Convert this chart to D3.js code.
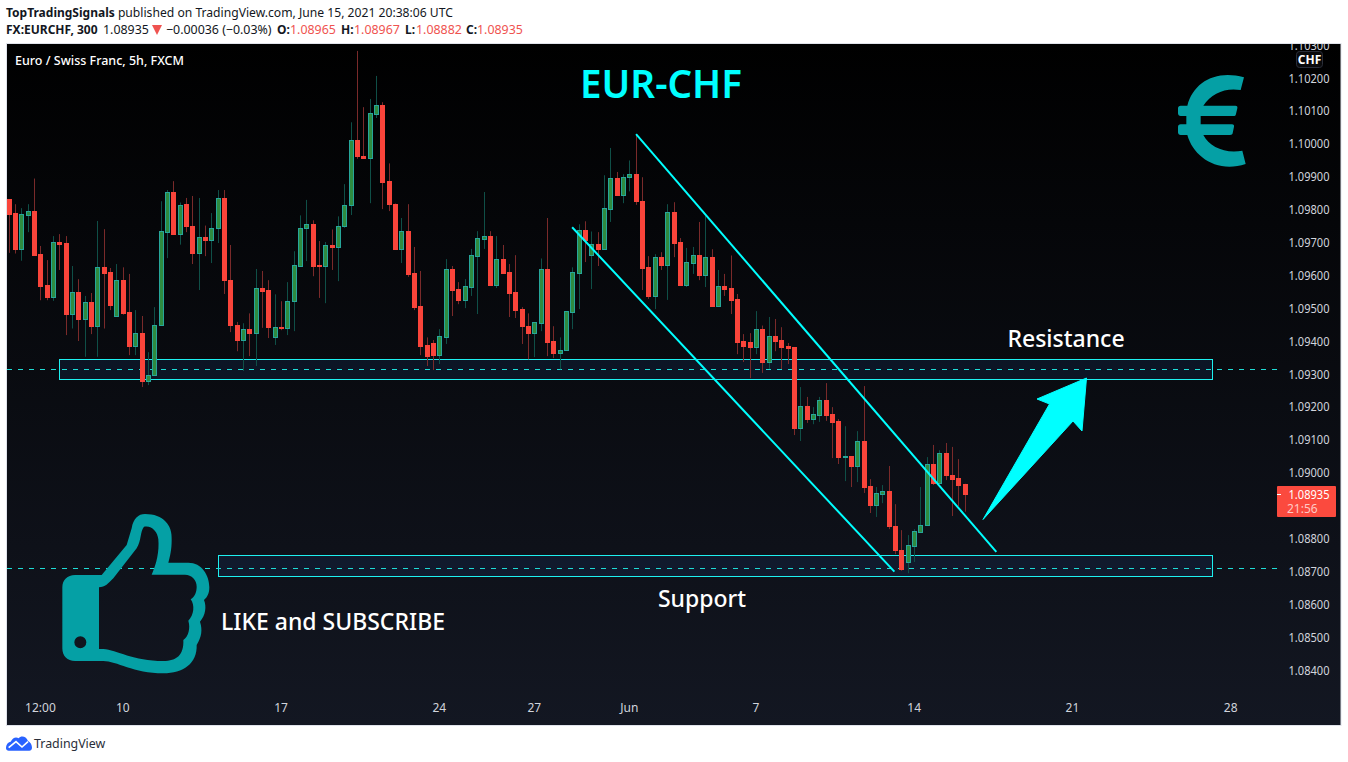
<!DOCTYPE html>
<html><head><meta charset="utf-8">
<script src="https://cdn.jsdelivr.net/npm/d3@7"></script>
<style>html,body{margin:0;padding:0;background:#fff}svg{display:block}text{font-family:"Noto Sans","Open Sans",sans-serif}</style>
</head><body><div id="c"></div>
<script>
// Prices in units of 0.00001
const opens=[109832,109790,109682,109785,109795,109665,109570,109536,109702,109698,109484,109549,109469,109521,109447,109625,109610,109478,109588,109488,109387,109424,109280,109298,109450,109733,109853,109727,109817,109752,109669,109717,109709,109745,109835,109588,109451,109405,109439,109426,109562,109555,109414,109445,109441,109523,109630,109745,109756,109631,109630,109692,109688,109751,109815,110011,109965,109958,110092,110120,109886,109819,109682,109737,109607,109506,109388,109394,109359,109414,109619,109558,109526,109566,109660,109712,109719,109572,109649,109610,109549,109497,109448,109426,109457,109619,109400,109365,109374,109490,109609,109740,109663,109695,109681,109803,109898,109846,109900,109908,109828,109625,109539,109655,109633,109792,109701,109572,109639,109664,109603,109655,109508,109568,109561,109528,109400,109397,109384,109439,109338,109415,109403,109385,109382,109137,109202,109165,109177,109223,109178,109157,109049,109050,109022,109096,108959,108903,108937,108944,108840,108767,108730,108779,108821,108842,109026,108970,109059,108995,108983,108965];
const highs=[109832,109817,109805,109817,109895,109690,109647,109720,109726,109720,109629,109589,109538,109547,109766,109741,109623,109635,109625,109605,109495,109477,109367,109504,109826,109860,109887,109822,109836,109842,109836,109752,109790,109860,109860,109693,109459,109455,109485,109620,109614,109586,109543,109522,109580,109674,109783,109830,109768,109705,109702,109740,109780,109878,110066,110283,110112,110137,110207,110127,109941,109819,109775,109817,109687,109614,109412,109404,109437,109650,109629,109580,109589,109681,109735,109854,109735,109720,109693,109635,109662,109504,109485,109458,109652,109775,109446,109412,109491,109625,109756,109765,109734,109732,109905,109988,109915,109908,109950,110029,109899,109659,109665,109671,109817,109823,109714,109684,109687,109763,109781,109680,109617,109605,109661,109544,109422,109425,109492,109448,109474,109468,109443,109395,109382,109261,109231,109200,109231,109273,109200,109164,109142,109050,109127,109264,108981,108957,108963,109021,108905,108826,108811,108829,108957,109048,109085,109069,109091,109079,109042,108967];
const lows=[109669,109667,109645,109732,109663,109525,109525,109523,109617,109419,109439,109401,109353,109422,109353,109439,109495,109478,109481,109358,109358,109261,109267,109298,109450,109653,109727,109694,109732,109635,109556,109659,109638,109699,109544,109428,109370,109310,109355,109325,109441,109410,109389,109434,109419,109431,109627,109644,109598,109532,109516,109617,109583,109745,109784,109955,109955,109820,110079,109802,109796,109682,109638,109596,109495,109358,109325,109313,109331,109392,109477,109513,109501,109538,109483,109681,109572,109562,109609,109474,109471,109392,109345,109352,109431,109355,109349,109315,109374,109437,109498,109641,109559,109629,109681,109763,109846,109820,109856,109815,109556,109529,109498,109617,109526,109656,109572,109565,109605,109586,109565,109505,109505,109538,109483,109361,109337,109288,109361,109304,109316,109370,109316,109331,109115,109097,109152,109148,109155,109158,109045,109027,108975,108957,108972,108939,108878,108866,108908,108829,108753,108702,108695,108729,108818,108842,108963,108970,108978,108869,108899,108882];
const closes=[109788,109682,109786,109795,109663,109569,109536,109701,109697,109484,109549,109469,109521,109447,109625,109609,109510,109588,109486,109387,109424,109280,109299,109451,109734,109853,109727,109816,109751,109669,109716,109708,109746,109835,109587,109449,109405,109439,109426,109561,109554,109444,109445,109441,109524,109631,109746,109756,109630,109629,109692,109688,109752,109816,110011,109964,109958,110093,110120,109885,109818,109682,109737,109606,109505,109387,109356,109358,109415,109619,109557,109526,109567,109661,109713,109719,109572,109649,109609,109548,109496,109447,109426,109458,109619,109399,109365,109375,109491,109610,109740,109709,109695,109681,109804,109898,109846,109901,109908,109827,109624,109539,109655,109633,109792,109700,109572,109640,109664,109603,109655,109508,109567,109559,109527,109399,109387,109383,109439,109338,109415,109402,109384,109381,109137,109202,109165,109178,109223,109177,109156,109049,109050,109022,109096,108958,108903,108938,108944,108839,108766,108709,108780,108822,108843,109026,108970,109059,108994,108982,108964,108935];

const priceTicks=[1.103,1.102,1.101,1.1,1.099,1.098,1.097,1.096,1.095,1.094,1.093,1.092,1.091,1.09,1.088,1.087,1.086,1.085,1.084];
const timeLabels=["12:00","10","17","24","27","Jun","7","14","21","28"];
const timeIndex=[5,18,43,68,83,98,118,143,168,193];
const zonePrices=[[1.09345,1.09284],[1.08749,1.08687]];
const zoneStart=[59.5,218.5];
const levelPrices=[1.09315,1.08712];
const channelUpper=[[99,1.1003],[155.9,1.0876]];
const channelLower=[[88.9,1.09747],[139.8,1.0870]];
const lastPrice=1.08935;

const W=1348,H=762;
const svg=d3.select("#c").append("svg").attr("width",W).attr("height",H);
const defs=svg.append("defs");
const grad=defs.append("linearGradient").attr("id","bg").attr("x1",0).attr("y1",0).attr("x2",0).attr("y2",1);
grad.append("stop").attr("offset","0%").attr("stop-color","#000");
grad.append("stop").attr("offset","100%").attr("stop-color","#131722");
defs.append("clipPath").attr("id","pane").append("rect").attr("x",7).attr("y",44).attr("width",1270).attr("height",681);
defs.append("clipPath").attr("id","full").append("rect").attr("x",7).attr("y",44).attr("width",1334).attr("height",681);

svg.append("rect").attr("x",6.5).attr("y",43.5).attr("width",1334.5).attr("height",682).attr("fill","url(#bg)").attr("stroke","#e0e3eb");

const x=d3.scaleLinear().domain([0,151]).range([9.3,965.3]);
const y=d3.scaleLinear().domain([1.10,1.09]).range([144,472.9]);
const px=v=>v/1e5;

// Header
const hdr=svg.append("g").attr("font-size",12).attr("fill","#131722");
const l1=hdr.append("text").attr("x",6).attr("y",17);
l1.append("tspan").attr("font-weight",700).text("TopTradingSignals");
l1.append("tspan").attr("font-size",12.15).text(" published on TradingView.com, June 15, 2021 20:38:06 UTC");
const l2=hdr.append("text").attr("y",34);
const headerParts=[["FX:EURCHF, 300",6,700,null],["1.08935",103,400,null],["−0.00036 (−0.03%)",166,400,null],
 ["O:",277,700,null],["1.08965",290,400,"#ef5350"],["H:",341,700,null],["1.08967",354,400,"#ef5350"],
 ["L:",405,700,null],["1.08882",416,400,"#ef5350"],["C:",466,700,null],["1.08935",477,400,"#ef5350"]];
headerParts.forEach(([t,xp,w,c])=>{
  const s=l2.append("tspan").attr("x",xp).attr("font-weight",w).text(t);
  if(c) s.attr("fill",c);
  if(w===400) s.attr("font-size",12.4);
});
svg.append("path").attr("d","M152,25L162,25L157,35Z").attr("fill","#ef5350");

// Zones & levels under candles
const pane=svg.append("g").attr("clip-path","url(#pane)");
pane.selectAll("rect.z").data(zonePrices).join("rect").attr("class","z")
  .attr("x",(d,i)=>zoneStart[i]).attr("width",(d,i)=>1212.5-zoneStart[i])
  .attr("y",d=>Math.round(y(d[0]))+.5).attr("height",d=>Math.round(y(d[1]))-Math.round(y(d[0])))
  .attr("fill","rgba(30,70,140,0.17)").attr("stroke","#1ef0f0");
pane.selectAll("line.lv").data(levelPrices).join("line").attr("class","lv")
  .attr("x1",7).attr("x2",1277).attr("y1",d=>Math.round(y(d))+.5).attr("y2",d=>Math.round(y(d))+.5)
  .attr("stroke","#1fdcd6").attr("stroke-dasharray","5 6");

// Candles
const idx=d3.range(opens.length);
const cx=i=>Math.floor(x(i))+.5;
const up=i=>closes[i]>=opens[i];
pane.selectAll("line.w").data(idx).join("line").attr("class","w")
  .attr("x1",cx).attr("x2",cx).attr("y1",i=>y(px(highs[i]))).attr("y2",i=>y(px(lows[i])))
  .attr("stroke",i=>up(i)?"#0f4f47":"#7a2a2a");
pane.selectAll("rect.b").data(idx).join("rect").attr("class","b")
  .attr("x",i=>cx(i)-2).attr("width",4)
  .attr("y",i=>Math.round(y(px(Math.max(opens[i],closes[i]))))+.5)
  .attr("height",i=>Math.max(Math.round(y(px(Math.min(opens[i],closes[i]))))-Math.round(y(px(Math.max(opens[i],closes[i])))),1))
  .attr("fill",i=>up(i)?"#2e8b40":"#f9443a").attr("stroke",i=>up(i)?"#26a69a":"#f9443a");

// Channel
pane.selectAll("line.ch").data([channelUpper,channelLower]).join("line").attr("class","ch")
  .attr("x1",d=>x(d[0][0])).attr("y1",d=>y(d[0][1])).attr("x2",d=>x(d[1][0])).attr("y2",d=>y(d[1][1]))
  .attr("stroke","#00ffff").attr("stroke-width",2);

// Arrow
svg.append("path").attr("d","M1086.5,378L1037,399L1049.5,404L983,519.5L1073,421L1082,431Z").attr("fill","#00ffff").attr("stroke","#00ffff").attr("stroke-linejoin","round");

// Icons
svg.append("path").attr("transform","translate(0,500) scale(.33333)").attr("fill-rule","evenodd").attr("fill","#05a0a5")
 .attr("d","M297,225L305,225L380,135L395,85C400,55 415,42 435,42C490,42 518,75 515,120C515,150 510,170 505,188L565,188C605,188 628,225 628,262C628,280 622,292 612,300C620,320 617,345 600,365C608,390 605,410 590,435C592,490 550,520 490,520C400,520 350,483 310,483L225,483C202,483 187,468 187,445L187,262C187,240 202,225 225,225Z M297,262L297,447L310,447C350,450 400,483 490,483C530,483 552,465 550,420C565,410 572,385 565,362C582,345 585,315 572,298C585,290 590,275 590,260C590,240 575,224 555,224L455,224C470,190 478,155 475,118C473,95 455,75 432,80C420,95 425,120 410,145L340,235C325,250 315,262 297,262Z M241,409A18,18 0 1,0 241,445A18,18 0 1,0 241,409Z");
svg.append("path").attr("transform","translate(1150,40) scale(.33333)").attr("fill","#05a0a5")
 .attr("d","M282,112L272,150C225,142 185,160 160,197L256,197C262,197 263,200 262,205L258,222C257,227 255,228 250,228L152,228L152,253L246,253C251,253 253,256 252,260L248,280C247,284 245,285 240,285L160,285C178,320 225,342 277,332L287,372C200,400 130,350 112,285L92,285C87,285 84,282 84,277L84,261C84,256 87,253 92,253L109,253L109,228L92,228C87,228 84,225 84,220L84,205C84,200 87,197 92,197L112,197C130,125 200,88 282,112Z");

// Annotations
const ann=svg.append("g").attr("text-anchor","middle").attr("fill","#fff");
ann.append("text").attr("x",661).attr("y",98).attr("font-size",39).attr("font-weight",600).attr("fill","#00ffff").attr("textLength",162).attr("lengthAdjust","spacingAndGlyphs").text("EUR-CHF");
ann.append("text").attr("x",1066).attr("y",347).attr("font-size",23).attr("font-weight",500).text("Resistance");
ann.append("text").attr("x",702).attr("y",607).attr("font-size",23).attr("font-weight",500).text("Support");
ann.append("text").attr("x",333).attr("y",630).attr("font-size",23).attr("font-weight",500).text("LIKE and SUBSCRIBE");
svg.append("text").attr("x",15).attr("y",65).attr("font-size",12.5).attr("font-weight",500).attr("fill","#fff").text("Euro / Swiss Franc, 5h, FXCM");

// Axes
const ya=svg.append("g").attr("clip-path","url(#full)")
 .append("g").attr("transform","translate(1288.5,0)")
 .call(d3.axisRight(y).tickValues(priceTicks).tickFormat(d3.format(".5f")).tickSize(0).tickPadding(0));
ya.select(".domain").remove();
ya.selectAll("text").attr("font-size",12).attr("fill","#d1d4dc").attr("font-family",'"Noto Sans"')
  .attr("textLength",41).attr("lengthAdjust","spacingAndGlyphs");
const xa=svg.append("g").attr("transform","translate(-1,703)")
 .call(d3.axisBottom(x).tickValues(timeIndex).tickFormat((d,i)=>timeLabels[i]).tickSize(0).tickPadding(0));
xa.select(".domain").remove();
xa.selectAll("text").attr("font-size",12).attr("fill","#d1d4dc").attr("font-family",'"Noto Sans"');

// CHF badge
svg.append("rect").attr("x",1296.5).attr("y",51.5).attr("width",26).attr("height",16).attr("rx",3).attr("fill","#0a0a0c").attr("stroke","#2a2e39");
svg.append("text").attr("x",1309.5).attr("y",64).attr("text-anchor","middle").attr("font-size",12).attr("font-weight",700).attr("fill","#fff").text("CHF");

// Last price label
const ly=y(lastPrice);
svg.append("rect").attr("x",1277).attr("y",486).attr("width",59).attr("height",31).attr("rx",1).attr("fill","#fb4a3e");
svg.append("line").attr("x1",1277).attr("x2",1281).attr("y1",Math.round(ly)+.5).attr("y2",Math.round(ly)+.5).attr("stroke","#fff");
svg.append("text").attr("x",1288.5).attr("y",499).attr("font-size",12).attr("fill","#fff").attr("textLength",41).attr("lengthAdjust","spacingAndGlyphs").text(d3.format(".5f")(lastPrice));
svg.append("text").attr("x",1287).attr("y",513).attr("font-size",12).attr("fill","#ffc9c4").text("21:56");

// Footer logo
svg.append("path").attr("transform","translate(0,725) scale(.33333)").attr("fill","#2962ff")
 .attr("d","M18,70C18,58 24,52 32,50C38,38 48,34 56,40C62,32 78,32 84,48C92,52 96,60 96,68C96,74 92,77 88,77L26,77C22,77 18,75 18,70Z");
svg.append("path").attr("transform","translate(0,725) scale(.33333)").attr("fill","none").attr("stroke","#fff").attr("stroke-width",5)
 .attr("d","M26,68L48,50L66,66L84,50");
svg.append("text").attr("x",34).attr("y",748).attr("font-size",12.4).attr("fill","#2a2e39").text("TradingView");
</script></body></html>
